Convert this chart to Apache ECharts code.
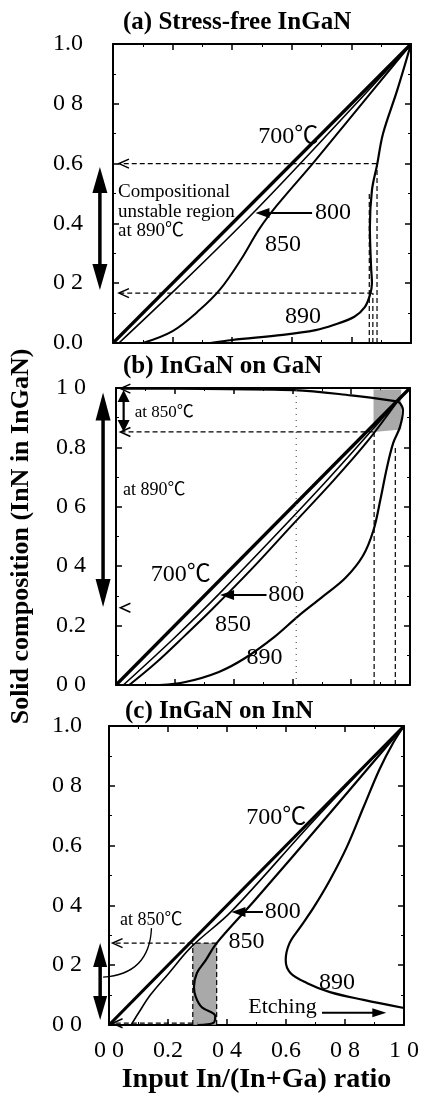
<!DOCTYPE html>
<html>
<head>
<meta charset="utf-8">
<script src="https://cdn.jsdelivr.net/npm/echarts@6/dist/echarts.min.js"></script>
<style>html,body{margin:0;background:#fff;}</style>
</head>
<body>
<div id="chart" style="width:422px;height:1098px;"></div>
<script>
const SERIF = '"Liberation Serif", "Noto Sans CJK JP", serif';

// tick labels as printed (scan lost some decimal points)
const xTickLabels = ['0 0', '0.2', '0 4', '0.6', '0 8', '1 0'];
const yTickLabelsA = ['0.0', '0 2', '0.4', '0.6', '0 8', '1.0'];
const yTickLabelsB = ['0 0', '0.2', '0 4', '0 6', '0.8', '1 0'];
const yTickLabelsC = ['0 0', '0 2', '0 4', '0.6', '0 8', '1.0'];

// (a) stress-free InGaN  [input ratio, solid composition]
const a700 = [[0, 0], [1, 1]];
const a800 = [[0.02, 0], [0.2, 0.17], [0.47, 0.435], [0.75, 0.73], [1, 1]];
const a850 = [[0.1, 0], [0.2, 0.04], [0.29, 0.11], [0.36, 0.18], [0.43, 0.28], [0.49, 0.38], [0.55, 0.46], [0.67, 0.6], [0.81, 0.77], [1, 1]];
const a890 = [[0.326, 0], [0.4, 0.01], [0.57, 0.027], [0.68, 0.043], [0.74, 0.06], [0.81, 0.088], [0.845, 0.12], [0.862, 0.16], [0.869, 0.2], [0.866, 0.254], [0.862, 0.388], [0.869, 0.512], [0.886, 0.595], [0.906, 0.7], [0.953, 0.843], [1, 1]];
const aGuides = [
  [[0.885, 0.6], [0.02, 0.6]],
  [[0.87, 0.167], [0.02, 0.167]],
  [[0.86, 0], [0.86, 0.5]],
  [[0.872, 0], [0.872, 0.167]],
  [[0.886, 0], [0.886, 0.6]]
];

// (b) InGaN on GaN
const b700 = [[0, 0], [1, 1]];
const b800 = [[0.025, 0], [0.2, 0.16], [0.354, 0.31], [0.7, 0.67], [0.955, 0.952], [1, 1]];
const b850 = [[0.045, 0], [0.135, 0.074], [0.236, 0.168], [0.327, 0.255], [0.461, 0.39], [0.596, 0.535], [0.741, 0.69], [0.855, 0.82], [0.955, 0.952]];
const b850upper = [[0.955, 0.955], [0.8, 0.975], [0.606, 0.993], [0.3, 0.997], [0.02, 0.998]];
const b890 = [[0.148, 0], [0.236, 0.01], [0.35, 0.044], [0.438, 0.09], [0.539, 0.162], [0.62, 0.232], [0.7, 0.295], [0.78, 0.36], [0.84, 0.435], [0.876, 0.522], [0.899, 0.623], [0.922, 0.734], [0.943, 0.815], [0.966, 0.869], [0.976, 0.926], [0.966, 0.949], [0.955, 0.955]];
const bGuides = [
  [[0.876, 0.852], [0.02, 0.852]],
  [[0.878, 0], [0.878, 0.852]],
  [[0.95, 0], [0.95, 0.8]]
];
const bDotted = [[0.613, 0], [0.613, 1]];
const bShade = [[0.876, 0.852], [0.876, 0.995], [0.97, 0.995], [0.97, 0.86]];

// (c) InGaN on InN
const c700 = [[0, 0], [1, 1]];
const c800 = [[0.075, 0], [0.1, 0.04], [0.14, 0.1], [0.2, 0.17], [0.28, 0.262], [0.415, 0.38], [0.7, 0.69], [1, 1]];
const c850 = [[0.3, 0], [0.355, 0.008], [0.36, 0.03], [0.314, 0.06], [0.294, 0.094], [0.288, 0.127], [0.298, 0.174], [0.328, 0.217], [0.365, 0.274], [0.495, 0.418], [0.75, 0.71], [1, 1]];
const c890 = [[1, 0.057], [0.863, 0.084], [0.749, 0.11], [0.672, 0.14], [0.615, 0.174], [0.599, 0.217], [0.612, 0.274], [0.649, 0.328], [0.695, 0.395], [0.749, 0.485], [0.806, 0.595], [0.863, 0.729], [0.916, 0.853], [0.963, 0.943], [1, 1]];
const cGuides = [
  [[0.365, 0.274], [0.02, 0.274]],
  [[0.284, 0.006], [0.02, 0.006]],
  [[0.284, 0], [0.284, 0.274]],
  [[0.365, 0], [0.365, 0.274]]
];
const cShade = [[0.284, 0], [0.284, 0.274], [0.365, 0.274], [0.365, 0]];

const chart = echarts.init(document.getElementById('chart'));

const grids = [
  { left: 113, top: 44, width: 298, height: 299 },
  { left: 113, top: 388, width: 297, height: 297 },
  { left: 109, top: 726, width: 299, height: 299 }
];
const yLabels = [yTickLabelsA, yTickLabelsB, yTickLabelsC];

function tickStyle() {
  return {
    axisLine: { show: true, onZero: false, lineStyle: { color: '#000', width: 2 } },
    axisTick: { show: true, inside: true, length: 6, lineStyle: { color: '#000', width: 1.5 } },
    minorTick: { show: true, splitNumber: 2, length: 3, lineStyle: { color: '#000', width: 1 } },
    splitLine: { show: false },
    minorSplitLine: { show: false }
  };
}

const xAxes = [], yAxes = [];
[false, true].forEach(second => {
  grids.forEach((g, i) => {
    xAxes.push(Object.assign({
      type: 'value', gridIndex: i, min: 0, max: 1, interval: 0.2,
      position: second ? 'top' : 'bottom',
      axisLabel: (second || i < 2) ? { show: false } : {
        margin: 14, color: '#000', fontFamily: SERIF, fontSize: 24,
        formatter: v => xTickLabels[Math.round(v * 5)]
      },
      name: (!second && i === 2) ? 'Input In/(In+Ga) ratio' : '',
      nameLocation: 'middle', nameGap: 41,
      nameTextStyle: { color: '#000', fontFamily: SERIF, fontWeight: 'bold', fontSize: 28 }
    }, tickStyle()));
    yAxes.push(Object.assign({
      type: 'value', gridIndex: i, min: 0, max: 1, interval: 0.2,
      position: second ? 'right' : 'left',
      axisLabel: second ? { show: false } : {
        margin: i === 2 ? 27 : 30, color: '#000', fontFamily: SERIF, fontSize: 24,
        formatter: v => yLabels[i][Math.round(v * 5)]
      },
      name: (!second && i === 1) ? 'Solid composition (InN in InGaN)' : '',
      nameLocation: 'middle', nameRotate: 90, nameGap: 82,
      nameTextStyle: { color: '#000', fontFamily: SERIF, fontWeight: 'bold', fontSize: 26 }
    }, tickStyle()));
  });
});

function curve(g, data, width) {
  return {
    type: 'line', xAxisIndex: g, yAxisIndex: g, data: data,
    symbol: 'none', smooth: 0.35, silent: true,
    lineStyle: { color: '#000', width: width }
  };
}
function guide(g, data, dash, color) {
  return {
    type: 'line', xAxisIndex: g, yAxisIndex: g, data: data,
    symbol: 'none', silent: true,
    lineStyle: { color: color || '#000', width: 1.2, type: dash || [5, 3] }
  };
}

const series = [
  curve(0, a700, 3.2), curve(0, a800, 1.6), curve(0, a850, 2), curve(0, a890, 2.2),
  curve(1, b700, 3.2), curve(1, b800, 1.6), curve(1, b850, 2), curve(1, b850upper, 2.2), curve(1, b890, 2.2),
  curve(2, c700, 3.2), curve(2, c800, 1.6), curve(2, c850, 2.2), curve(2, c890, 2.2),
  guide(1, bDotted, [1, 5], '#555')
];
aGuides.forEach(d => series.push(guide(0, d)));
bGuides.forEach(d => series.push(guide(1, d)));
cGuides.forEach(d => series.push(guide(2, d)));

const titleStyle = { color: '#000', fontFamily: SERIF, fontWeight: 'bold', fontSize: 25 };
chart.setOption({
  animation: false,
  backgroundColor: '#fff',
  title: [
    { text: '(a) Stress-free InGaN', left: 123, top: 10, padding: 0, textStyle: titleStyle },
    { text: '(b) InGaN on GaN', left: 123, top: 354, padding: 0, textStyle: titleStyle },
    { text: '(c) InGaN on InN', left: 125, top: 699, padding: 0, textStyle: titleStyle }
  ],
  grid: grids,
  xAxis: xAxes,
  yAxis: yAxes,
  series: series
});

// annotations, placed in data coordinates through the axes
const P = (g, x, y) => chart.convertToPixel({ xAxisIndex: g, yAxisIndex: g }, [x, y]);

function head(tip, back, len, half, filled) {
  const dx = tip[0] - back[0], dy = tip[1] - back[1];
  const d = Math.hypot(dx, dy), ux = dx / d, uy = dy / d;
  const bx = tip[0] - ux * len, by = tip[1] - uy * len;
  const p1 = [bx - uy * half, by + ux * half], p2 = [bx + uy * half, by - ux * half];
  if (filled) return { type: 'polygon', z: 20, shape: { points: [tip, p1, p2] }, style: { fill: '#000' } };
  return { type: 'polyline', z: 20, shape: { points: [p1, tip, p2] }, style: { stroke: '#000', lineWidth: 1.5, fill: null } };
}
function arrow(g, from, to, lw, len, half, both) {
  const a = P(g, from[0], from[1]), b = P(g, to[0], to[1]);
  const d = Math.hypot(b[0] - a[0], b[1] - a[1]);
  const ux = (b[0] - a[0]) / d, uy = (b[1] - a[1]) / d;
  const s = both ? [a[0] + ux * len * 0.8, a[1] + uy * len * 0.8] : a;
  const e = [b[0] - ux * len * 0.8, b[1] - uy * len * 0.8];
  const out = [{ type: 'line', z: 20, shape: { x1: s[0], y1: s[1], x2: e[0], y2: e[1] }, style: { stroke: '#000', lineWidth: lw } },
    head(b, a, len, half, true)];
  if (both) out.push(head(a, b, len, half, true));
  return out;
}
function openHead(g, x, y) {
  const t = P(g, x, y);
  return head(t, [t[0] + 10, t[1]], 10, 4.5, false);
}
function label(g, x, y, s, size, bold) {
  const p = P(g, x, y);
  return {
    type: 'text', z: 20, x: p[0], y: p[1],
    style: {
      text: s, fill: '#000', font: (bold ? 'bold ' : '') + size + 'px ' + SERIF,
      align: 'left', verticalAlign: 'middle', textAlign: 'left', textVerticalAlign: 'middle'
    }
  };
}
function shade(g, pts, z) {
  return { type: 'polygon', z: z || 1, shape: { points: pts.map(p => P(g, p[0], p[1])) }, style: { fill: '#9a9a9a', opacity: 0.85 } };
}

const cl0 = P(2, 0.144, 0.324), cl1 = P(2, 0.137, 0.17), cl2 = P(2, -0.02, 0.16);

const graphic = [].concat(
  // (a)
  arrow(0, [-0.044, 0.177], [-0.044, 0.589], 3.5, 26, 7.5, true),
  arrow(0, [0.668, 0.435], [0.478, 0.435], 2, 14, 5, false),
  [openHead(0, 0.02, 0.6), openHead(0, 0.02, 0.167),
    label(0, 0.487, 0.689, '700℃', 24), label(0, 0.678, 0.435, '800', 24),
    label(0, 0.51, 0.328, '850', 24), label(0, 0.577, 0.087, '890', 24),
    label(0, 0.017, 0.505, 'Compositional', 19), label(0, 0.017, 0.437, 'unstable region', 19),
    label(0, 0.017, 0.376, 'at 890℃', 19)],
  // (b)
  [shade(1, bShade)],
  arrow(1, [-0.044, 0.263], [-0.044, 0.985], 3.5, 28, 7.5, true),
  arrow(1, [0.026, 0.852], [0.026, 0.993], 2.2, 12, 6, true),
  arrow(1, [0.512, 0.303], [0.354, 0.303], 2, 14, 5, false),
  [openHead(1, 0.015, 0.998), openHead(1, 0.015, 0.852), openHead(1, 0.015, 0.26),
    label(1, 0.064, 0.916, 'at 850℃', 17), label(1, 0.024, 0.657, 'at 890℃', 18),
    label(1, 0.118, 0.37, '700℃', 24), label(1, 0.518, 0.303, '800', 24),
    label(1, 0.337, 0.202, '850', 24), label(1, 0.444, 0.091, '890', 24)],
  // (c)
  [shade(2, cShade)],
  arrow(2, [-0.03, 0.017], [-0.03, 0.274], 3.5, 24, 7, true),
  arrow(2, [0.522, 0.378], [0.415, 0.378], 2, 14, 5, false),
  arrow(2, [0.722, 0.041], [0.94, 0.041], 2, 14, 4.5, false),
  [openHead(2, 0.012, 0.274), openHead(2, 0.012, 0.006),
    { type: 'bezierCurve', z: 20, shape: { x1: cl0[0], y1: cl0[1], cpx1: cl1[0], cpy1: cl1[1], x2: cl2[0], y2: cl2[1] }, style: { stroke: '#000', lineWidth: 1.3, fill: null } },
    label(2, 0.037, 0.351, 'at 850℃', 18), label(2, 0.465, 0.692, '700℃', 24),
    label(2, 0.528, 0.378, '800', 24), label(2, 0.405, 0.278, '850', 24),
    label(2, 0.712, 0.14, '890', 24), label(2, 0.472, 0.06, 'Etching', 22)]
);

chart.setOption({ graphic: graphic });
</script>
</body>
</html>
